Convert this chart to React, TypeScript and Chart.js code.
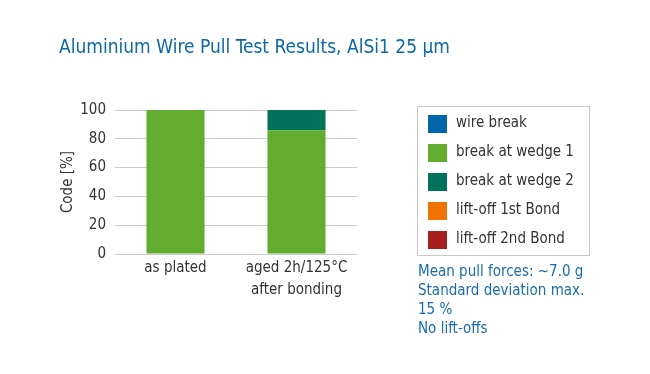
import React, { useEffect, useRef } from "react";
import { Chart, registerables } from "chart.js";

Chart.register(...registerables);

const titleText = "Aluminium Wire Pull Test Results, AlSi1 25 µm";
const categories: (string | string[])[] = ["as plated", ["aged 2h/125°C", "after bonding"]];
const seriesNames = ["wire break", "break at wedge 1", "break at wedge 2", "lift-off 1st Bond", "lift-off 2nd Bond"];
const seriesColors = ["#0066a9", "#62ad2f", "#00735a", "#ef7203", "#a61f1d"];
const wireBreak = [0, 0];
const breakWedge1 = [100, 86];
const breakWedge2 = [0, 14];
const liftOff1st = [0, 0];
const liftOff2nd = [0, 0];
const yTicks = [0, 20, 40, 60, 80, 100];
const notes = ["Mean pull forces: ~7.0 g", "Standard deviation max.", "15 %", "No lift-offs"];

const FONT = "'Liberation Sans Narrow', 'DejaVu Sans Condensed', 'Open Sans', sans-serif";

export default function App() {
  const ref = useRef<HTMLCanvasElement>(null);
  useEffect(() => {
    if (!ref.current) return;
    const values = [wireBreak, breakWedge1, breakWedge2, liftOff1st, liftOff2nd];
    const textPlugin = {
      id: "texts",
      afterDraw(chart: any) {
        const ctx = chart.ctx as CanvasRenderingContext2D;
        ctx.save();
        // title
        ctx.fillStyle = "#0b69a8";
        ctx.font = `19px ${FONT}`;
        ctx.textBaseline = "alphabetic";
        ctx.textAlign = "left";
        ctx.fillText(titleText, 59, 53);
        // legend box
        ctx.strokeStyle = "#c8c8c8";
        ctx.lineWidth = 1;
        ctx.strokeRect(417.5, 106.5, 172, 149);
        ctx.font = `15px ${FONT}`;
        chart.data.datasets.forEach((ds: any, i: number) => {
          const y = 115 + i * 29;
          ctx.fillStyle = ds.backgroundColor;
          ctx.fillRect(428, y, 19, 18);
          ctx.fillStyle = "#333333";
          ctx.textBaseline = "middle";
          ctx.fillText(ds.label, 456, y + 8);
        });
        // notes
        ctx.fillStyle = "#1a6cac";
        ctx.textBaseline = "alphabetic";
        notes.forEach((t, i) => ctx.fillText(t, 418, 276 + i * 19));
        ctx.restore();
      },
    };
    const chart = new Chart(ref.current, {
      type: "bar",
      data: {
        labels: categories as any,
        datasets: seriesNames.map((name, i) => ({
          label: name,
          data: values[i],
          backgroundColor: seriesColors[i],
          borderWidth: 0,
          barPercentage: 0.48,
          categoryPercentage: 1,
        })),
      },
      options: {
        responsive: false,
        animation: false,
        layout: { padding: { left: 0, right: 293, top: 110, bottom: 0 } },
        plugins: { legend: { display: false }, tooltip: { enabled: false }, title: { display: false } },
        scales: {
          x: {
            stacked: true,
            grid: { display: false },
            border: { display: false },
            ticks: { color: "#333333", font: { family: FONT, size: 15, lineHeight: 1.45 }, padding: -5 },
            afterFit: (s: any) => { s.height = 120; },
          },
          y: {
            stacked: true,
            min: 0,
            max: 100,
            afterBuildTicks: (s: any) => { s.ticks = yTicks.map((v) => ({ value: v })); },
            grid: { color: "#cccccc", drawTicks: false },
            border: { display: false },
            ticks: { color: "#333333", font: { family: FONT, size: 15 }, padding: 9 },
            title: { display: true, text: "Code [%]", color: "#333333", font: { family: FONT, size: 15 }, padding: { top: 59, bottom: 0 } },
            afterFit: (s: any) => { s.width = 115; },
          },
        },
      },
      plugins: [textPlugin],
    });
    return () => chart.destroy();
  }, []);
  return (
    <div style={{ position: "fixed", left: 0, top: 0, width: 650, height: 374, background: "#fff" }}>
      <canvas ref={ref} width={650} height={374} style={{ width: 650, height: 374 }} />
    </div>
  );
}
